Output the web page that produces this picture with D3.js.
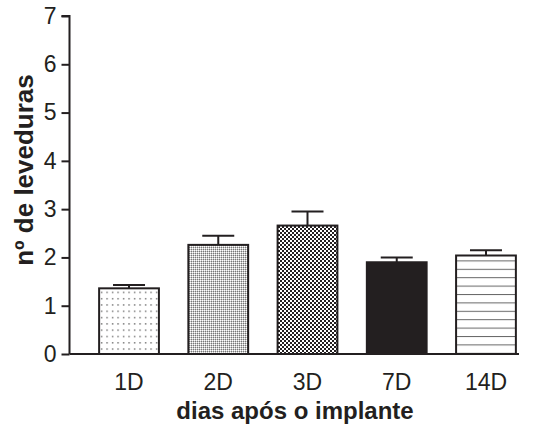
<!DOCTYPE html>
<html>
<head>
<meta charset="utf-8">
<script src="https://cdn.jsdelivr.net/npm/d3@7"></script>
<style>
  body { margin: 0; background: #fff; }
  text { font-family: "Liberation Sans", Arial, sans-serif; fill: #231f20; }
</style>
</head>
<body>
<div id="chart"></div>
<script>
// Data
const categories = ['1D', '2D', '3D', '7D', '14D']
const means = [1.36, 2.26, 2.66, 1.90, 2.04]
const errors = [0.07, 0.19, 0.29, 0.10, 0.11]
const patterns = ['dots', 'grid', 'checker', 'solid', 'hlines']
const yTicks = [0, 1, 2, 3, 4, 5, 6, 7]

const ink = '#231f20'

// Dimensions
let dimensions = {
  width: 535,
  height: 431,
}

const svg = d3.select('#chart')
  .append('svg')
  .attr('width', dimensions.width)
  .attr('height', dimensions.height)

// Patterns
const defs = svg.append('defs')

const dots = defs.append('pattern')
  .attr('id', 'dots').attr('patternUnits', 'userSpaceOnUse')
  .attr('width', 5.5).attr('height', 6.3)
dots.append('rect').attr('width', 5.5).attr('height', 6.3).attr('fill', '#fff')
dots.append('rect').attr('x', 2).attr('y', 2).attr('width', 1.2).attr('height', 1.2).attr('fill', '#333')

const grid = defs.append('pattern')
  .attr('id', 'grid').attr('patternUnits', 'userSpaceOnUse')
  .attr('width', 2).attr('height', 2)
grid.append('rect').attr('width', 2).attr('height', 2).attr('fill', '#c8c8c8')
grid.append('rect').attr('width', 1).attr('height', 1).attr('fill', '#fff')
grid.append('rect').attr('x', 1).attr('y', 1).attr('width', 1).attr('height', 1).attr('fill', '#777')

const checker = defs.append('pattern')
  .attr('id', 'checker').attr('patternUnits', 'userSpaceOnUse')
  .attr('width', 4).attr('height', 4)
checker.append('rect').attr('width', 4).attr('height', 4).attr('fill', '#fff')
checker.append('rect').attr('width', 2).attr('height', 2).attr('fill', ink)
checker.append('rect').attr('x', 2).attr('y', 2).attr('width', 2).attr('height', 2).attr('fill', ink)

const hlines = defs.append('pattern')
  .attr('id', 'hlines').attr('patternUnits', 'userSpaceOnUse')
  .attr('width', 8).attr('height', 8.4)
hlines.append('rect').attr('width', 8).attr('height', 8.4).attr('fill', '#fff')
hlines.append('rect').attr('y', 0).attr('width', 8).attr('height', 1).attr('fill', '#666')

const fillFor = p => p === 'solid' ? ink : `url(#${p})`

// Scales
const x = d3.scaleBand()
  .domain(categories)
  .range([84.4, 530.6])
  .paddingInner(0.33)
  .paddingOuter(0.165)

const y = d3.scaleLinear()
  .domain([0, 7])
  .range([354, 16])

// Bars
const bars = svg.append('g')
bars.selectAll('rect')
  .data(categories)
  .join('rect')
  .attr('x', d => x(d))
  .attr('y', (d, i) => y(means[i]))
  .attr('width', x.bandwidth())
  .attr('height', (d, i) => y(0) - y(means[i]))
  .attr('fill', (d, i) => fillFor(patterns[i]))
  .attr('stroke', ink)
  .attr('stroke-width', 2)

// Error bars
const err = svg.append('g').attr('stroke', ink).attr('stroke-width', 2)
err.selectAll('line.v')
  .data(categories)
  .join('line')
  .attr('class', 'v')
  .attr('x1', d => x(d) + x.bandwidth() / 2)
  .attr('x2', d => x(d) + x.bandwidth() / 2)
  .attr('y1', (d, i) => y(means[i]))
  .attr('y2', (d, i) => y(means[i] + errors[i]))
err.selectAll('line.cap')
  .data(categories)
  .join('line')
  .attr('class', 'cap')
  .attr('x1', d => x(d) + x.bandwidth() / 2 - 16)
  .attr('x2', d => x(d) + x.bandwidth() / 2 + 16)
  .attr('y1', (d, i) => y(means[i] + errors[i]))
  .attr('y2', (d, i) => y(means[i] + errors[i]))

// Y axis
const yAxis = svg.append('g')
  .attr('transform', 'translate(69.5, 0)')
  .call(d3.axisLeft(y).tickValues(yTicks).tickFormat(d3.format('d')).tickSize(8).tickPadding(5))
yAxis.selectAll('path, line').attr('stroke', ink).attr('stroke-width', 2)
yAxis.select('.domain').attr('d', `M-8,${y(7)}H0V${y(0)}`)
yAxis.selectAll('text')
  .attr('font-size', 23)
  .attr('fill', ink)
  .style('font-family', '"Liberation Sans", Arial, sans-serif')

// X axis
const xAxis = svg.append('g')
  .attr('transform', `translate(0, ${y(0)})`)
  .call(d3.axisBottom(x).tickSize(0).tickPadding(20))
xAxis.select('.domain')
  .attr('d', 'M69.5,0H519')
  .attr('stroke', ink)
  .attr('stroke-width', 2)
xAxis.selectAll('text')
  .attr('font-size', 23)
  .attr('fill', ink)
  .style('font-family', '"Liberation Sans", Arial, sans-serif')

// Titles
svg.append('text')
  .attr('transform', 'translate(33, 170) rotate(-90)')
  .attr('text-anchor', 'middle')
  .attr('font-size', 26)
  .attr('font-weight', 'bold')
  .text('nº de leveduras')

svg.append('text')
  .attr('x', 295)
  .attr('y', 419)
  .attr('text-anchor', 'middle')
  .attr('font-size', 24)
  .attr('font-weight', 'bold')
  .text('dias após o implante')
</script>
</body>
</html>
